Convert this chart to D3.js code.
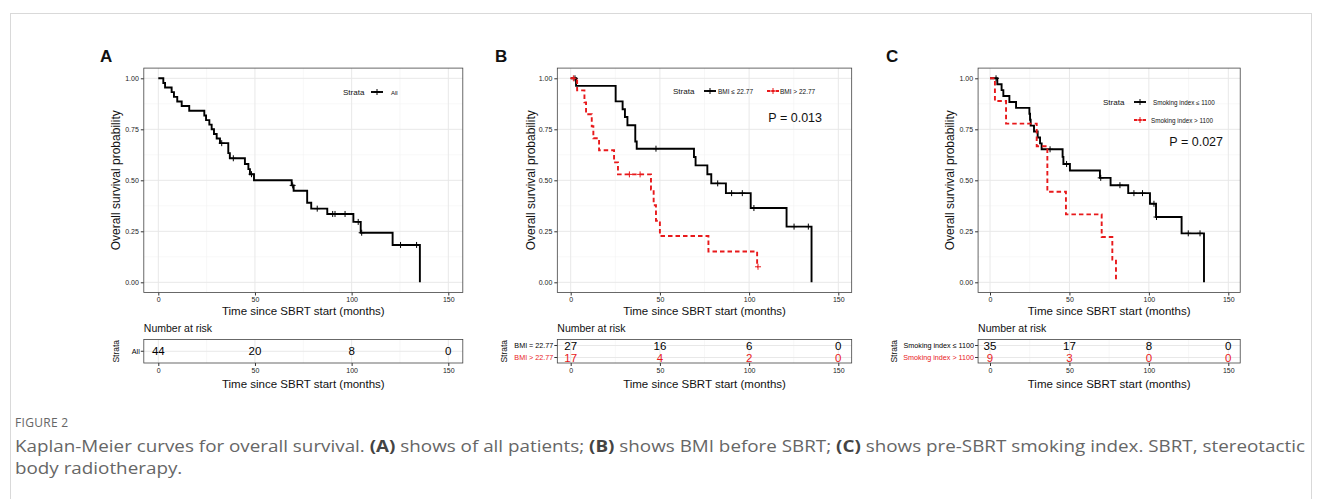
<!DOCTYPE html>
<html><head><meta charset="utf-8">
<script src="https://cdn.jsdelivr.net/npm/d3@7"></script>
<style>
html,body{margin:0;padding:0;background:#fff;}
svg{display:block;}
</style></head>
<body>
<svg id="chart" width="1322" height="499"></svg>
<script>
// ---------- DATA ----------
const timeTicks = [0, 50, 100, 150];
const survTicks = [0, 0.25, 0.5, 0.75, 1];
const survTickLabels = ["0.00", "0.25", "0.50", "0.75", "1.00"];

// Panel A: all patients
const aEventTime = [2.6,3.5,6.9,8.1,9.8,12.1,16,23.8,24.7,26.4,27.6,28.8,30.2,31.9,36.2,37,44.8,46.6,47.4,49.5,69,70,77,79.1,87.4,100.9,104.7,121.2,135.3];
const aEventSurv = [0.977,0.955,0.932,0.909,0.886,0.864,0.841,0.818,0.795,0.773,0.75,0.727,0.705,0.682,0.633,0.608,0.58,0.555,0.53,0.50,0.475,0.449,0.39,0.361,0.335,0.296,0.243,0.183,0];
const aCensor = [32.8,38.8,48.2,69.5,82.2,90.2,91.4,96.6,103.4,105.2,125.3,133.6];
const aRisk = [44, 20, 8, 0];

// Panel B: BMI
const bLowTime = [3.0,25.2,29.1,30.4,31.8,36.2,37,69.1,70,76.6,78.8,87,100.9,121,135];
const bLowSurv = [0.963,0.887,0.848,0.81,0.77,0.69,0.655,0.614,0.573,0.53,0.485,0.437,0.364,0.273,0];
const bLowCensor = [2.4,47.8,82.4,90.2,96.2,102.7,125.2,133.2];
const bHighTime = [3.6,7.7,8.6,11.8,12.7,15.9,24.3,26.5,45,46.5,47.8,50,77.2,104.5];
const bHighSurv = [0.941,0.882,0.824,0.765,0.706,0.647,0.588,0.529,0.455,0.378,0.302,0.227,0.151,0.076];
const bHighCensor = [1.5,32.9,38.9,105];
const bLowRisk = [27, 16, 6, 0];
const bHighRisk = [17, 4, 2, 0];

// Panel C: smoking index
const cLowTime = [4.6,7.3,8.4,12.2,16.4,24.8,25.2,25.6,27.7,30,31.5,32.5,45.7,46.2,50.3,69.2,75.9,87,100.7,104.5,120.6,134.7];
const cLowSurv = [0.971,0.942,0.913,0.884,0.855,0.826,0.797,0.768,0.739,0.71,0.681,0.652,0.615,0.58,0.548,0.512,0.476,0.437,0.385,0.32,0.24,0];
const cLowCensor = [3.8,37.8,48.2,69.7,81.8,90.6,96,103.2,104.8,124.8,132.2];
const cHighTime = [3.1,10.1,29.4,36.1,47.8,70.3,77,79.3];
const cHighSurv = [0.889,0.778,0.667,0.444,0.333,0.222,0.111,0];
const cHighCensor = [];
const cLowRisk = [35, 17, 8, 0];
const cHighRisk = [9, 3, 0, 0];

// ---------- LAYOUT ----------
const BLACK = "#000", RED = "#e8191b";
const svg = d3.select("#chart");
const FONT = "'Liberation Sans', Arial, sans-serif";

// outer card frame
svg.append("rect").attr("x",10.5).attr("y",13.5).attr("width",1301).attr("height",600)
  .attr("fill","none").attr("stroke","#d9d9d9").attr("stroke-width",1);

function stepPath(times, surv, censor){
  const pts = [[0,1]];
  let prev = 1;
  times.forEach((t,i)=>{ pts.push([t,prev]); pts.push([t,surv[i]]); prev = surv[i]; });
  const last = Math.max(times[times.length-1], censor.length ? d3.max(censor) : 0);
  if (last > times[times.length-1]) pts.push([last, prev]);
  return pts;
}
function survAt(times, surv, t){
  let s = 1;
  times.forEach((tt,i)=>{ if (tt <= t) s = surv[i]; });
  return s;
}

const panels = [
  { letter:"A", letterX:100, x0:158.3, x150:448.3, ylabX:117, strataX:117,
    curves:[{times:aEventTime, surv:aEventSurv, censor:aCensor, color:BLACK, dash:null}],
    risk:[{label:"All", values:aRisk, color:BLACK}],
    legend:{type:"single"} },
  { letter:"B", letterX:495, x0:570.7, x150:838.3, ylabX:531.5, strataX:505,
    curves:[{times:bLowTime, surv:bLowSurv, censor:bLowCensor, color:BLACK, dash:null},
            {times:bHighTime, surv:bHighSurv, censor:bHighCensor, color:RED, dash:"4.5,3"}],
    risk:[{label:"BMI = 22.77", values:bLowRisk, color:BLACK},{label:"BMI > 22.77", values:bHighRisk, color:RED}],
    legend:{type:"bmi"}, p:"P = 0.013" },
  { letter:"C", letterX:886, x0:990, x150:1228.3, ylabX:951, strataX:895,
    curves:[{times:cLowTime, surv:cLowSurv, censor:cLowCensor, color:BLACK, dash:null},
            {times:cHighTime, surv:cHighSurv, censor:cHighCensor, color:RED, dash:"4.5,3"}],
    risk:[{label:"Smoking index \u2264 1100", values:cLowRisk, color:BLACK},{label:"Smoking index > 1100", values:cHighRisk, color:RED}],
    legend:{type:"smoke"}, p:"P = 0.027" }
];

const Y1 = 78.3, Y0 = 282.3;

function cross(g, x, y, color, size){
  const h = size/2;
  g.append("path").attr("d",`M${x-h},${y}H${x+h}M${x},${y-h}V${y+h}`)
    .attr("stroke",color).attr("stroke-width",1).attr("fill","none");
}

panels.forEach(P=>{
  const pxPerM = (P.x150 - P.x0)/150;
  const x = d3.scaleLinear().domain([-7.5,157.5]).range([P.x0 - 7.5*pxPerM, P.x150 + 7.5*pxPerM]);
  const y = d3.scaleLinear().domain([-0.05,1.05]).range([Y0 + 0.05*(Y0-Y1), Y1 - 0.05*(Y0-Y1)]);
  const L = x.range()[0], R = x.range()[1], T = y.range()[1], B = y.range()[0];
  const g = svg.append("g");

  // panel letter
  g.append("text").attr("x",P.letterX).attr("y",62).text(P.letter)
    .attr("font-family",FONT).attr("font-weight","bold").attr("font-size",17).attr("fill","#111");

  // grid
  const minorX = [25,75,125], minorY = [0.125,0.375,0.625,0.875];
  g.selectAll(null).data(minorX).join("line").attr("x1",d=>x(d)).attr("x2",d=>x(d)).attr("y1",T).attr("y2",B)
    .attr("stroke","#f2f2f2").attr("stroke-width",0.6);
  g.selectAll(null).data(minorY).join("line").attr("y1",d=>y(d)).attr("y2",d=>y(d)).attr("x1",L).attr("x2",R)
    .attr("stroke","#f2f2f2").attr("stroke-width",0.6);
  g.selectAll(null).data(timeTicks).join("line").attr("x1",d=>x(d)).attr("x2",d=>x(d)).attr("y1",T).attr("y2",B)
    .attr("stroke","#e8e8e8").attr("stroke-width",1);
  g.selectAll(null).data(survTicks).join("line").attr("y1",d=>y(d)).attr("y2",d=>y(d)).attr("x1",L).attr("x2",R)
    .attr("stroke","#e8e8e8").attr("stroke-width",1);

  // axes
  const xAxis = d3.axisBottom(x).tickValues(timeTicks).tickSize(3).tickPadding(2);
  const yAxis = d3.axisLeft(y).tickValues(survTicks).tickFormat((d,i)=>survTickLabels[i]).tickSize(3).tickPadding(2);
  const gx = g.append("g").attr("transform",`translate(0,${B})`).call(xAxis);
  const gy = g.append("g").attr("transform",`translate(${L},0)`).call(yAxis);
  [gx,gy].forEach(a=>{
    a.select(".domain").remove();
    a.selectAll(".tick line").attr("stroke","#333");
    a.selectAll(".tick text").attr("font-family",FONT).attr("font-size",7).attr("fill","#222");
  });

  // curves
  const line = d3.line().x(d=>x(d[0])).y(d=>y(d[1]));
  P.curves.forEach(c=>{
    g.append("path").attr("d",line(stepPath(c.times,c.surv,c.censor)))
      .attr("fill","none").attr("stroke",c.color).attr("stroke-width",1.9)
      .attr("stroke-dasharray",c.dash).attr("stroke-linejoin","miter");
    c.censor.forEach(t=>cross(g, x(t), y(survAt(c.times,c.surv,t)), c.color, 6));
  });

  // border
  g.append("rect").attr("x",L).attr("y",T).attr("width",R-L).attr("height",B-T)
    .attr("fill","none").attr("stroke","#444").attr("stroke-width",0.8);

  // axis titles
  g.append("text").attr("x",(L+R)/2).attr("y",314.5).attr("text-anchor","middle")
    .attr("font-family",FONT).attr("font-size",11.5).attr("fill","#111").text("Time since SBRT start (months)");
  g.append("text").attr("transform",`translate(${P.ylabX},${(T+B)/2}) rotate(-90)`).attr("text-anchor","middle")
    .attr("dominant-baseline","middle")
    .attr("font-family",FONT).attr("font-size",12).attr("fill","#111").text("Overall survival probability");

  // legend
  const leg = g.append("g").attr("font-family",FONT).attr("fill","#111");
  function key(cx, cy, color, dash){
    leg.append("line").attr("x1",cx-6).attr("x2",cx+6).attr("y1",cy).attr("y2",cy)
      .attr("stroke",color).attr("stroke-width",1.9).attr("stroke-dasharray",dash);
    cross(leg, cx, cy, color, 6);
  }
  if (P.legend.type==="single"){
    leg.append("text").attr("x",343).attr("y",95).attr("font-size",8).text("Strata");
    key(377, 92, BLACK, null);
    leg.append("text").attr("x",391).attr("y",94.5).attr("font-size",6).text("All");
  } else if (P.legend.type==="bmi"){
    leg.append("text").attr("x",673).attr("y",94).attr("font-size",8).text("Strata");
    key(710, 91, BLACK, null);
    leg.append("text").attr("x",718).attr("y",93.5).attr("font-size",6.5).text("BMI \u2264 22.77");
    key(773, 91, RED, "3,1.5");
    leg.append("text").attr("x",780).attr("y",93.5).attr("font-size",6.5).text("BMI > 22.77");
  } else {
    leg.append("text").attr("x",1103).attr("y",105).attr("font-size",8).text("Strata");
    key(1140, 102, BLACK, null);
    leg.append("text").attr("x",1153).attr("y",104.5).attr("font-size",6.3).text("Smoking index \u2264 1100");
    key(1140, 120, RED, "3,1.5");
    leg.append("text").attr("x",1151).attr("y",122.5).attr("font-size",6.3).text("Smoking index > 1100");
  }
  if (P.p){
    const px = P.legend.type==="bmi" ? 822 : 1223;
    const py = P.legend.type==="bmi" ? 121.5 : 145.5;
    g.append("text").attr("x",px).attr("y",py).attr("text-anchor","end")
      .attr("font-family",FONT).attr("font-size",12.5).attr("fill","#111").text(P.p);
  }

  // ---------- risk table ----------
  const RT = 339.5, RB = 363;
  const nRows = P.risk.length;
  const ry = d3.scalePoint().domain(d3.range(nRows)).range(nRows===1 ? [ (RT+RB)/2, (RT+RB)/2 ] : [RT+6, RB-5.5]);
  const rg = g.append("g");
  rg.append("text").attr("x",L).attr("y",332).attr("font-family",FONT).attr("font-size",10.5).attr("fill","#111").text("Number at risk");
  // grid
  rg.selectAll(null).data(minorX).join("line").attr("x1",d=>x(d)).attr("x2",d=>x(d)).attr("y1",RT).attr("y2",RB)
    .attr("stroke","#f2f2f2").attr("stroke-width",0.6);
  rg.selectAll(null).data(timeTicks).join("line").attr("x1",d=>x(d)).attr("x2",d=>x(d)).attr("y1",RT).attr("y2",RB)
    .attr("stroke","#e8e8e8").attr("stroke-width",1);
  rg.selectAll(null).data(d3.range(nRows)).join("line").attr("y1",d=>ry(d)).attr("y2",d=>ry(d)).attr("x1",L).attr("x2",R)
    .attr("stroke","#e8e8e8").attr("stroke-width",1);
  P.risk.forEach((r,i)=>{
    rg.selectAll(null).data(timeTicks).join("text").attr("x",d=>x(d)).attr("y",ry(i)).attr("dy","0.36em")
      .attr("text-anchor","middle").attr("font-family",FONT).attr("font-size",11.5).attr("fill",r.color)
      .text((d,j)=>r.values[j]);
    rg.append("line").attr("x1",L-3).attr("x2",L).attr("y1",ry(i)).attr("y2",ry(i)).attr("stroke","#333");
    rg.append("text").attr("x",L-4).attr("y",ry(i)).attr("dy","0.35em").attr("text-anchor","end")
      .attr("font-family",FONT).attr("font-size",7.2).attr("fill",r.color).text(r.label);
  });
  rg.append("rect").attr("x",L).attr("y",RT).attr("width",R-L).attr("height",RB-RT)
    .attr("fill","none").attr("stroke","#444").attr("stroke-width",0.8);
  const rx = d3.axisBottom(x).tickValues(timeTicks).tickSize(3).tickPadding(2);
  const grx = rg.append("g").attr("transform",`translate(0,${RB})`).call(rx);
  grx.select(".domain").remove();
  grx.selectAll(".tick line").attr("stroke","#333");
  grx.selectAll(".tick text").attr("font-family",FONT).attr("font-size",7).attr("fill","#222");
  rg.append("text").attr("transform",`translate(${P.strataX},${(RT+RB)/2}) rotate(-90)`).attr("text-anchor","middle")
    .attr("dominant-baseline","middle").attr("font-family",FONT).attr("font-size",8.5).attr("fill","#111").text("Strata");
  rg.append("text").attr("x",(L+R)/2).attr("y",387.5).attr("text-anchor","middle")
    .attr("font-family",FONT).attr("font-size",11.5).attr("fill","#111").text("Time since SBRT start (months)");
});

// ---------- caption ----------
const CF = "'Open Sans', 'Noto Sans', sans-serif";
svg.append("text").attr("x",15).attr("y",427).attr("font-family",CF).attr("font-size",12)
  .attr("fill","#666").attr("letter-spacing",0.3).text("FIGURE 2");
const cap1 = svg.append("text").attr("x",15).attr("y",452).attr("font-family",CF).attr("font-size",15.5).attr("fill","#666");
const parts = [
  ["Kaplan-Meier curves for overall survival. ",false],["(A)",true],[" shows of all patients; ",false],
  ["(B)",true],[" shows BMI before SBRT; ",false],["(C)",true],[" shows pre-SBRT smoking index. SBRT, stereotactic",false]
];
parts.forEach(p=>{ cap1.append("tspan").text(p[0]).attr("font-weight",p[1]?"bold":null).attr("fill",p[1]?"#444":null); });
const w1 = cap1.node().getComputedTextLength();
const cap2 = svg.append("text").attr("x",15).attr("y",474).attr("font-family",CF).attr("font-size",15.5).attr("fill","#666")
  .text("body radiotherapy.");
const target = 1290;
const k = target / w1;
cap1.attr("textLength",target).attr("lengthAdjust","spacingAndGlyphs");
cap2.attr("textLength",cap2.node().getComputedTextLength()*k).attr("lengthAdjust","spacingAndGlyphs");
</script>
</body></html>
